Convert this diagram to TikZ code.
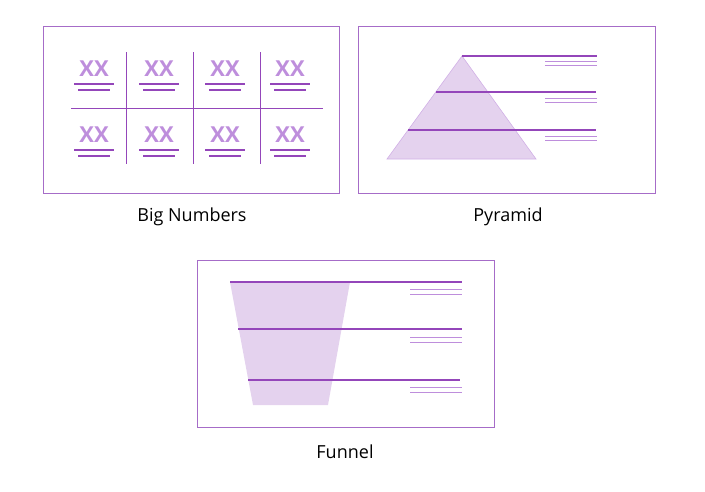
\documentclass[tikz,border=0pt]{standalone}
\usepackage{fontspec}
\setmainfont{Open Sans}
\usepackage{xcolor}
\usetikzlibrary{positioning}
\definecolor{frame}{HTML}{A66CC8}
\definecolor{line}{HTML}{9446BA}
\definecolor{soft}{HTML}{BE8EDC}
\definecolor{lilac}{HTML}{E4D2EE}
\tikzset{
  panel/.style={draw=frame, line width=1pt},
  rule/.style={draw=line, line width=1.2pt},
  thin/.style={draw=soft, line width=1pt},
  caption/.style={font=\fontsize{18}{20}\selectfont},
  bignum/.style={text=soft, font=\fontsize{22}{24}\selectfont\bfseries, inner sep=0pt}
}
\begin{document}
\begin{tikzpicture}[x=1pt,y=-1pt]
\useasboundingbox (0,0) rectangle (705,491);
% big numbers
\draw[panel] (43,26) rectangle (339,193);
\draw[thin, draw=line, line width=0.8pt] (71,108) -- (323,108);
\foreach \x in {126,193,260}
  \draw[thin, draw=line, line width=0.8pt] (\x,52) -- (\x,164);
\foreach \x in {94,159,225,290}
  \foreach \y in {69,135} {
    \node[bignum] at (\x,\y) {XX};
    \draw[rule, line width=2pt] (\x-20,\y+15) -- (\x+20,\y+15);
    \draw[rule, line width=2pt] (\x-16,\y+21) -- (\x+16,\y+21);
  }
\node[caption] (bigcap) at (192,217) {Big Numbers};
% pyramid
\draw[panel] (358,26) rectangle (655,193);
\fill[lilac, draw=soft!70, line width=0.6pt] (462,56) -- (536,159) -- (387,159) -- cycle;
\draw[rule] (462,56) -- (597,56);
\draw[rule] (436,92) -- (596,92);
\draw[rule] (408,130) -- (596,130);
\foreach \y in {61,98,136} {
  \draw[thin] (545,\y) -- (597,\y);
  \draw[thin] (545,\y+4) -- (597,\y+4);
}
\node[caption] (pyrcap) at (508,217) {Pyramid};
% funnel
\draw[panel] (197,260) rectangle (494,427);
\fill[lilac] (230,282) -- (350,282) -- (328,405) -- (253,405) -- cycle;
\draw[rule] (230,282) -- (462,282);
\draw[rule] (238,329) -- (462,329);
\draw[rule] (248,380) -- (460,380);
\foreach \y in {289,337,387} {
  \draw[thin] (410,\y) -- (462,\y);
  \draw[thin] (410,\y+5) -- (462,\y+5);
}
\node[caption] (funcap) at (345,452) {Funnel};
\end{tikzpicture}
\end{document}
